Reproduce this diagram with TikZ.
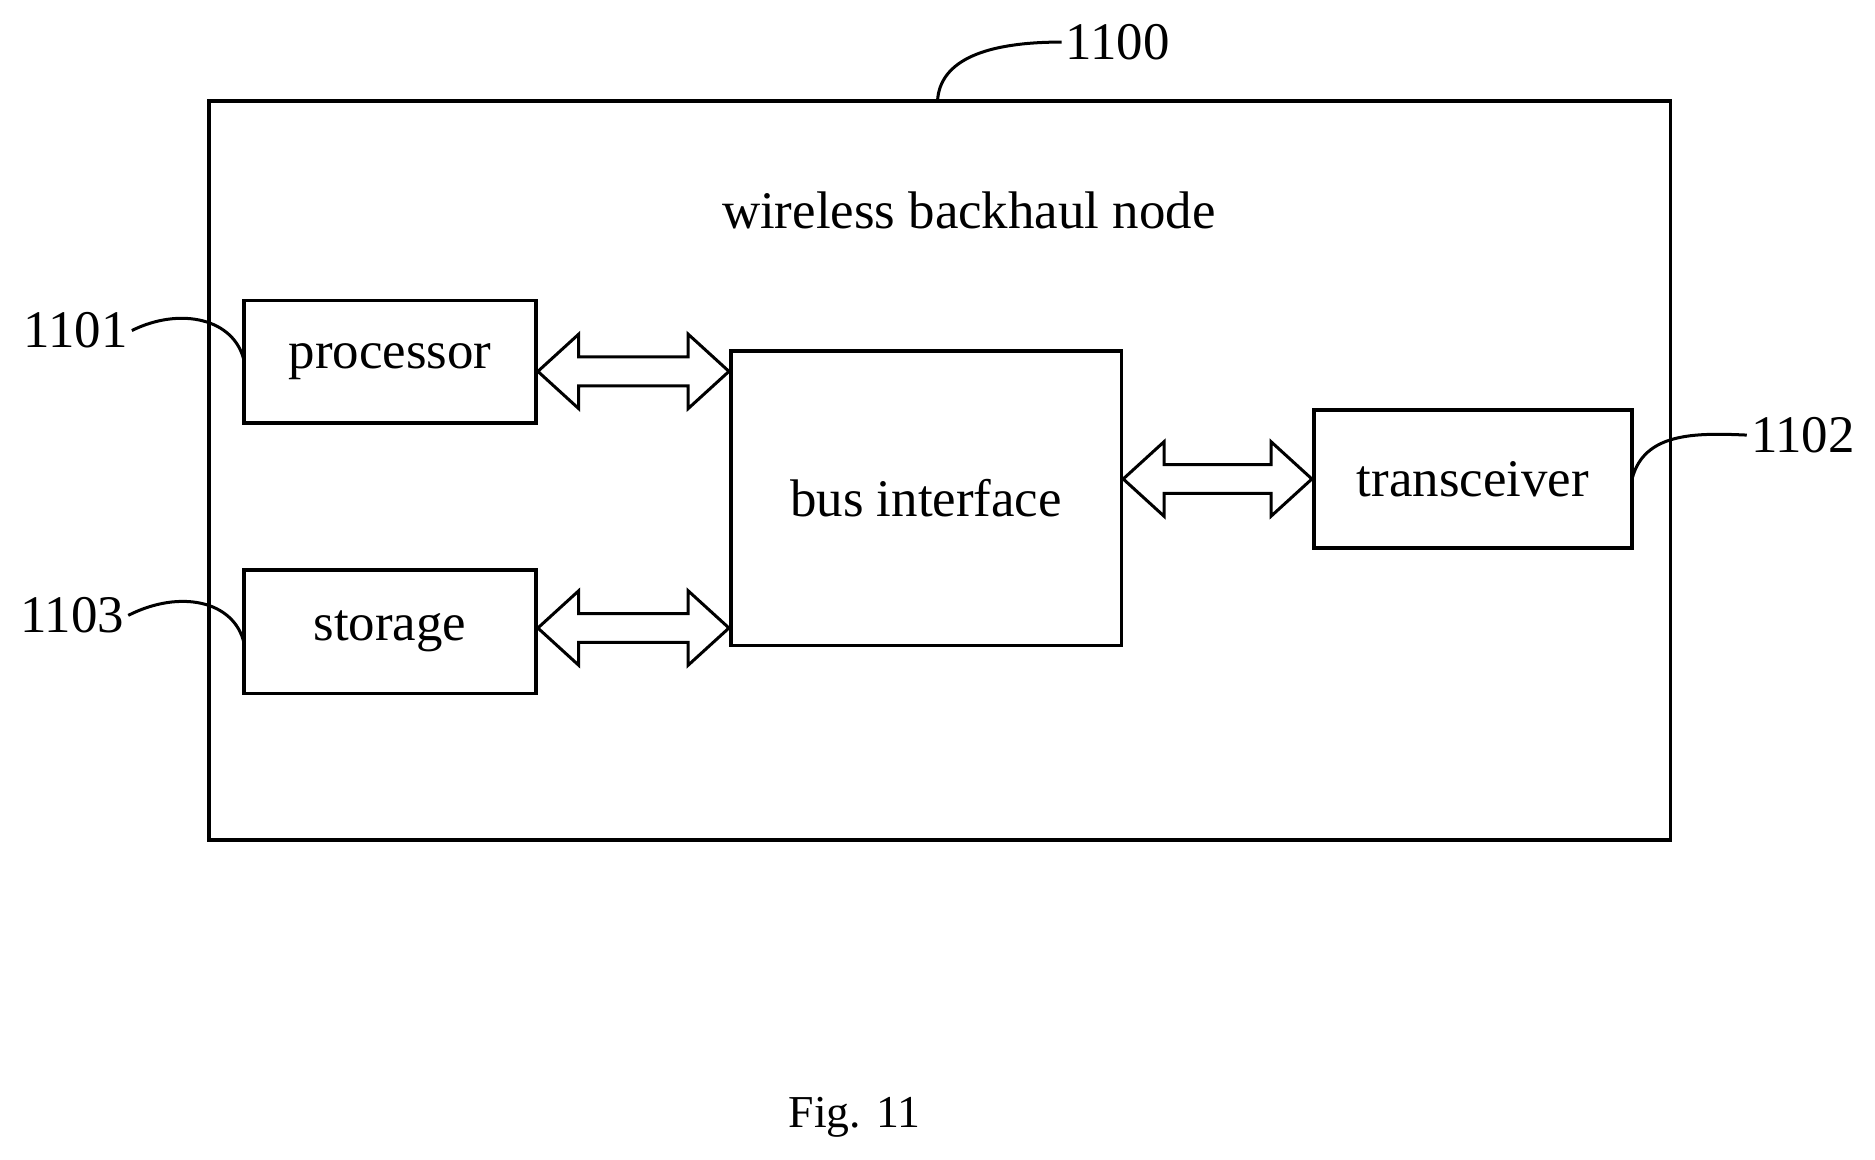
\documentclass[tikz,border=0pt]{standalone}
\usepackage{fontspec}
\setmainfont{Liberation Serif}
\usetikzlibrary{calc}

\tikzset{
  blk/.style={draw, line width=3pt, inner sep=0pt},
  lbl/.style={font=\fontsize{44}{50}\selectfont},
  lead/.style={line width=2.5pt},
}
% hollow double-headed bus arrow between two points on one level
\newcommand\busarrow[2]{%
  \draw [line width=2.5pt, line join=miter] (#1) -- ++(34,-31) -- ++(0,19) -- ($(#2)+(-34,-12)$) -- ++(0,-19)
    -- (#2) -- ++(-34,31) -- ++(0,-19) -- ($(#1)+(34,12)$) -- ++(0,19) -- cycle;}

\begin{document}
\begin{tikzpicture}[x=1pt,y=1pt,yscale=-1,xscale=1]
    \useasboundingbox (0,0) rectangle (1560,965);

    %Outer box
    \draw [line width=3pt] (174,84) rectangle (1390,699);
    \node [lbl] (title) at (806,175) {wireless backhaul node};

    %Blocks
    \node [blk, minimum width=243pt, minimum height=102pt, lbl] (proc) at (324.5,301) {processor};
    \node [blk, minimum width=243pt, minimum height=103pt, lbl] (stor) at (324.5,525.5) {storage};
    \node [blk, minimum width=325pt, minimum height=245pt, lbl] (bus) at (770.5,414.5) {bus interface};
    \node [blk, minimum width=265pt, minimum height=115pt, lbl] (trx) at (1225.5,398.5) {transceiver};

    %Double arrows
    \coordinate (p1) at ([yshift=8pt]proc.east);
    \coordinate (p2) at (p1 -| bus.west);
    \coordinate (s1) at ([yshift=-3pt]stor.east);
    \coordinate (s2) at (s1 -| bus.west);
    \coordinate (t2) at (trx.west);
    \coordinate (t1) at (t2 -| bus.east);
    \busarrow{p1}{p2}
    \busarrow{s1}{s2}
    \busarrow{t1}{t2}

    %Reference numerals
    \node [lbl] (n1100) at (930,35) {1100};
    \node [lbl] (n1101) at (63,275) {1101};
    \node [lbl] (n1103) at (60,512) {1103};
    \node [lbl] (n1102) at (1500,362) {1102};
    \draw [lead] (780,84) .. controls (782,50) and (820,35) .. (n1100.west);
    \draw [lead] (n1101.east) .. controls (150,255) and (195,265) .. (203,300);
    \draw [lead] (n1103.east) .. controls (150,490) and (195,500) .. (203,535);
    \draw [lead] (1358,398) .. controls (1368,360) and (1410,360) .. (n1102.west);

    % Caption
    \node [lbl, font=\fontsize{38}{44}\selectfont] (cap) at (711,930) {Fig. 11};
\end{tikzpicture}
\end{document}
